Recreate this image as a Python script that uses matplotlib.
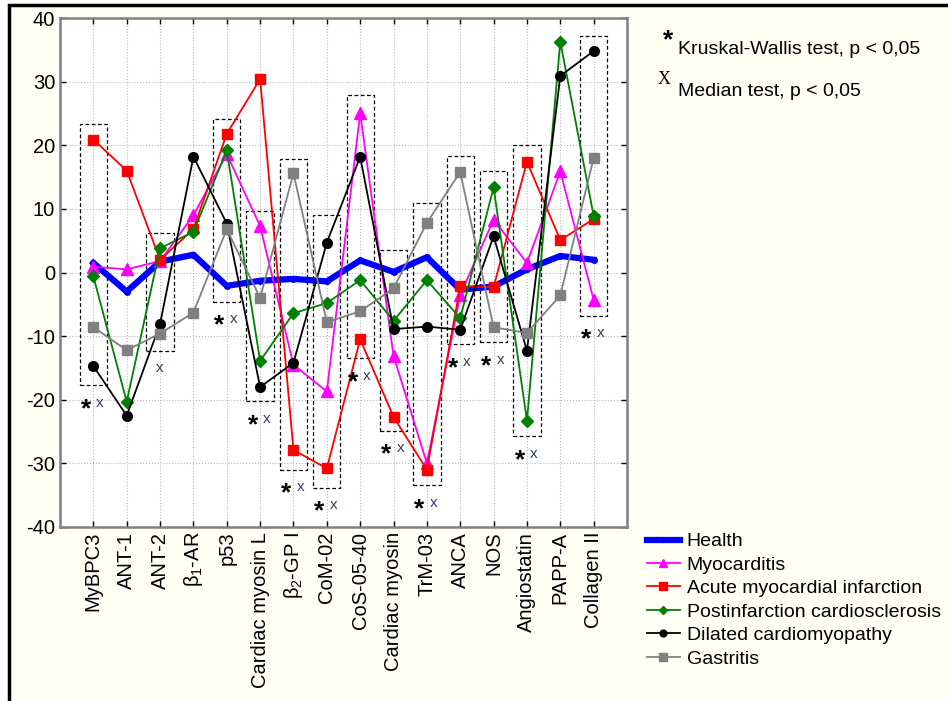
import numpy as np
import matplotlib.pyplot as plt
from matplotlib.patches import Rectangle

plt.rcParams['font.family'] = ['Liberation Sans', 'DejaVu Sans']
plt.rcParams['mathtext.fontset'] = 'custom'
plt.rcParams['mathtext.rm'] = 'Liberation Sans'
plt.rcParams['mathtext.it'] = 'Liberation Sans'
plt.rcParams['axes.unicode_minus'] = False

# data
markers_names = ['MyBPC3', 'ANT-1', 'ANT-2', r'$\beta_1$-AR', 'p53', 'Cardiac myosin L',
                 r'$\beta_2$-GP I', 'CoM-02', 'CoS-05-40', 'Cardiac myosin', 'TrM-03',
                 'ANCA', 'NOS', 'Angiostatin', 'PAPP-A', 'Collagen II']

health = [1.5, -3.0, 1.7, 2.8, -2.1, -1.3, -1.0, -1.4, 1.9, 0.1, 2.4, -2.7, -2.2, 0.5, 2.6, 2.0]
myocarditis = [0.9, 0.5, 1.8, 9.0, 18.6, 7.3, -14.5, -18.7, 25.0, -13.1, -30.0, -3.5, 8.3, 1.5, 15.9, -4.3]
acute_mi = [20.9, 16.0, 2.0, 6.8, 21.8, 30.4, -27.9, -30.8, -10.5, -22.7, -31.0, -2.2, -2.3, 17.4, 5.1, 8.4]
postinfarction = [-0.6, -20.3, 3.8, 6.4, 19.2, -13.9, -6.4, -4.8, -1.2, -7.6, -1.2, -7.2, 13.4, -23.3, 36.3, 8.9]
dilated_cm = [-14.7, -22.5, -8.1, 18.2, 7.7, -18.0, -14.2, 4.7, 18.2, -8.9, -8.5, -9.0, 5.7, -12.3, 30.9, 34.8]
gastritis = [-8.6, -12.2, -9.6, -6.3, 6.8, -4.0, 15.6, -7.8, -6.1, -2.5, 7.8, 15.8, -8.6, -9.5, -3.6, 18.0]

# significance boxes: category index, box top, box bottom, kruskal-wallis, median test
box_idx = [0, 2, 4, 5, 6, 7, 8, 9, 10, 11, 12, 13, 15]
box_top = [23.3, 6.2, 24.2, 9.6, 17.8, 9.0, 27.9, 3.5, 11.0, 18.3, 16.0, 20.0, 37.1]
box_bottom = [-17.7, -12.3, -4.6, -20.2, -31.0, -33.8, -13.5, -24.9, -33.4, -11.3, -11.0, -25.7, -6.8]
kw_sig = [True, False, True, True, True, True, True, True, True, True, True, True, True]
med_sig = [True] * 13

cream = '#fffff4'
fig = plt.figure(figsize=(9.48, 7.01), dpi=100, facecolor='white')
W, H = 948, 701
fig.add_artist(Rectangle((9 / W, -0.01), 1.0, 1 - 5 / H + 0.01, transform=fig.transFigure,
                         facecolor=cream, edgecolor='black', linewidth=2.5, zorder=-10))

ax = fig.add_axes([60 / W, 1 - 527 / H, (627 - 60) / W, (527 - 18) / H])
ax.set_facecolor('white')
x = np.arange(len(markers_names))

series = [
    ('Health', health, '#0000ff', 'o', 4, 4.5),
    ('Myocarditis', myocarditis, '#ff00ff', '^', 8.5, 1.3),
    ('Acute myocardial infarction', acute_mi, '#ff0000', 's', 7.5, 1.3),
    ('Postinfarction cardiosclerosis', postinfarction, '#008000', 'D', 6, 1.3),
    ('Dilated cardiomyopathy', dilated_cm, '#000000', 'o', 7, 1.3),
    ('Gastritis', gastritis, '#808080', 's', 7.5, 1.3),
]
handles = []
for name, vals, col, mk, ms, lw in series:
    h, = ax.plot(x, vals, color=col, marker=mk, markersize=ms, linewidth=lw,
                 markeredgecolor=col, label=name)
    handles.append(h)

for i, top, bot, kw, md in zip(box_idx, box_top, box_bottom, kw_sig, med_sig):
    ax.add_patch(Rectangle((i - 0.41, bot), 0.82, top - bot, fill=False,
                           edgecolor='black', linestyle=(0, (3, 2)), linewidth=0.9, zorder=1))
    ty = bot - 2.75
    if kw and md:
        ax.text(i - 0.22, ty - 1.0, '*', fontsize=19, fontweight='bold', ha='center', va='center')
        ax.text(i + 0.2, ty, 'x', fontsize=11, color='#2f3f60', ha='center', va='center')
    elif md:
        ax.text(i, ty, 'x', fontsize=11, color='#2f3f60', ha='center', va='center')

ax.set_xlim(-1, len(markers_names))
ax.set_ylim(-40, 40)
ax.set_xticks(x)
ax.set_xticklabels(markers_names, rotation=90, fontsize=14.5)
ax.set_yticks(np.arange(-40, 41, 10))
ax.tick_params(axis='y', labelsize=14.5)
ax.tick_params(direction='in', top=True, right=True, length=4, width=1)
ax.grid(True, linestyle=':', color='#b8b8b8', linewidth=0.8)
ax.set_axisbelow(True)
for s in ax.spines.values():
    s.set_color('#808080')
    s.set_linewidth(1.8)

fig.legend(handles=handles, loc='upper left', bbox_to_anchor=(639 / W, 1 - 525 / H),
           frameon=False, fontsize=14, handlelength=1.7, handletextpad=0.35,
           labelspacing=0.3, borderaxespad=0, markerscale=0.7)

fig.text(668 / W, 1 - 40 / H, '*', fontsize=19, fontweight='bold', ha='center', va='center')
fig.text(678 / W, 1 - 49 / H, 'Kruskal-Wallis test, p < 0,05', fontsize=14, va='center')
fig.text(664 / W, 1 - 79 / H, 'X', fontsize=13, family='Liberation Serif', ha='center', va='center')
fig.text(678 / W, 1 - 91 / H, 'Median test, p < 0,05', fontsize=14, va='center')

fig.savefig('out.png', dpi=100, facecolor=fig.get_facecolor())
